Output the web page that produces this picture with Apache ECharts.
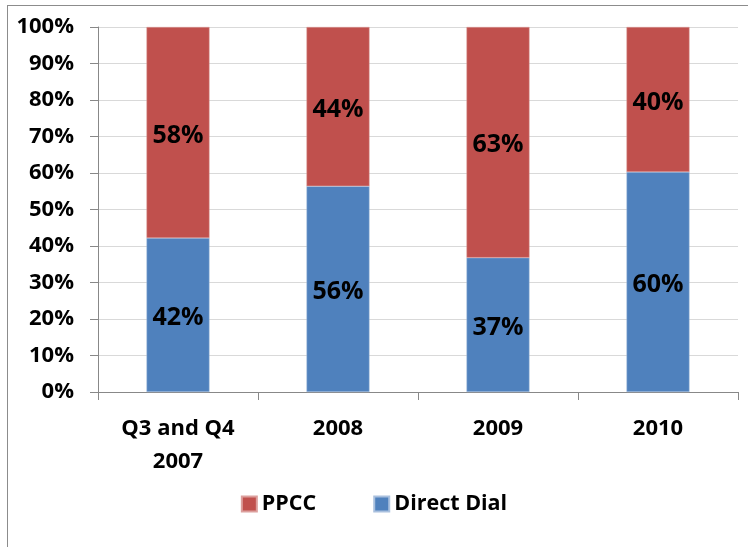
<!DOCTYPE html>
<html lang="en">
<head>
  <meta charset="UTF-8">
  <script src="https://cdn.jsdelivr.net/npm/echarts@6/dist/echarts.min.js"></script>
  <style>
    body { margin: 0; background: #ffffff; }
    /* Chart frame */
    #frame {
      position: absolute;
      left: 7px; top: 5px;
      width: 760px; height: 560px;
      border: 1px solid #8c8c8c;
      box-sizing: border-box;
    }
    #main { position: absolute; left: 0; top: 0; width: 748px; height: 547px; }
  </style>
</head>
<body>
  <div id="frame"></div>
  <div id="main"></div>
  <script>
    var categories = ['Q3 and Q4\n2007', '2008', '2009', '2010'];
    var directDial = [42.2, 56.4, 36.8, 60.3];
    var ppcc = [57.8, 43.6, 63.2, 39.7];
    var yTicks = [0, 10, 20, 30, 40, 50, 60, 70, 80, 90, 100];

    var chart = echarts.init(document.getElementById('main'));
    var fontFamily = '"Open Sans", "Noto Sans", sans-serif';

    var barLabel = {
      show: true,
      position: 'inside',
      offset: [0, 3],
      color: '#000',
      fontSize: 25,
      fontWeight: 'bold',
      fontFamily: fontFamily,
      formatter: function (p) { return Math.round(p.value) + '%'; }
    };

    chart.setOption({
      animation: false,
      grid: { left: 98, right: 10, top: 27, bottom: 155 },
      legend: {
        bottom: 27,
        left: 'center',
        itemWidth: 15,
        itemHeight: 15,
        itemGap: 57,
        icon: 'rect',
        textStyle: { fontSize: 21.5, fontWeight: 'bold', color: '#000', fontFamily: fontFamily },
        data: ['PPCC', 'Direct Dial']
      },
      xAxis: {
        type: 'category',
        data: categories,
        axisLine: { lineStyle: { color: '#888', width: 1 } },
        axisTick: { show: true, length: 8, lineStyle: { color: '#888' } },
        axisLabel: {
          margin: 20,
          fontSize: 22,
          fontWeight: 'bold',
          color: '#000',
          lineHeight: 33,
          fontFamily: fontFamily
        }
      },
      yAxis: {
        type: 'value',
        min: yTicks[0],
        max: yTicks[yTicks.length - 1],
        interval: 10,
        axisLine: { show: true, lineStyle: { color: '#888', width: 1 } },
        axisTick: { show: true, length: 8, lineStyle: { color: '#888' } },
        splitLine: { lineStyle: { color: '#d9d9d9', width: 1 } },
        axisLabel: {
          margin: 24,
          fontSize: 22,
          fontWeight: 'bold',
          color: '#000',
          fontFamily: fontFamily,
          formatter: '{value}%'
        }
      },
      series: [
        {
          name: 'Direct Dial',
          type: 'bar',
          stack: 'total',
          data: directDial,
          barWidth: 63,
          itemStyle: { color: '#4F81BD', borderColor: '#a9c0de', borderWidth: 0.5 },
          label: barLabel
        },
        {
          name: 'PPCC',
          type: 'bar',
          stack: 'total',
          data: ppcc,
          barWidth: 63,
          itemStyle: { color: '#C0504D', borderColor: '#dc9f9d', borderWidth: 0.5 },
          label: barLabel
        }
      ]
    });
  </script>
</body>
</html>
